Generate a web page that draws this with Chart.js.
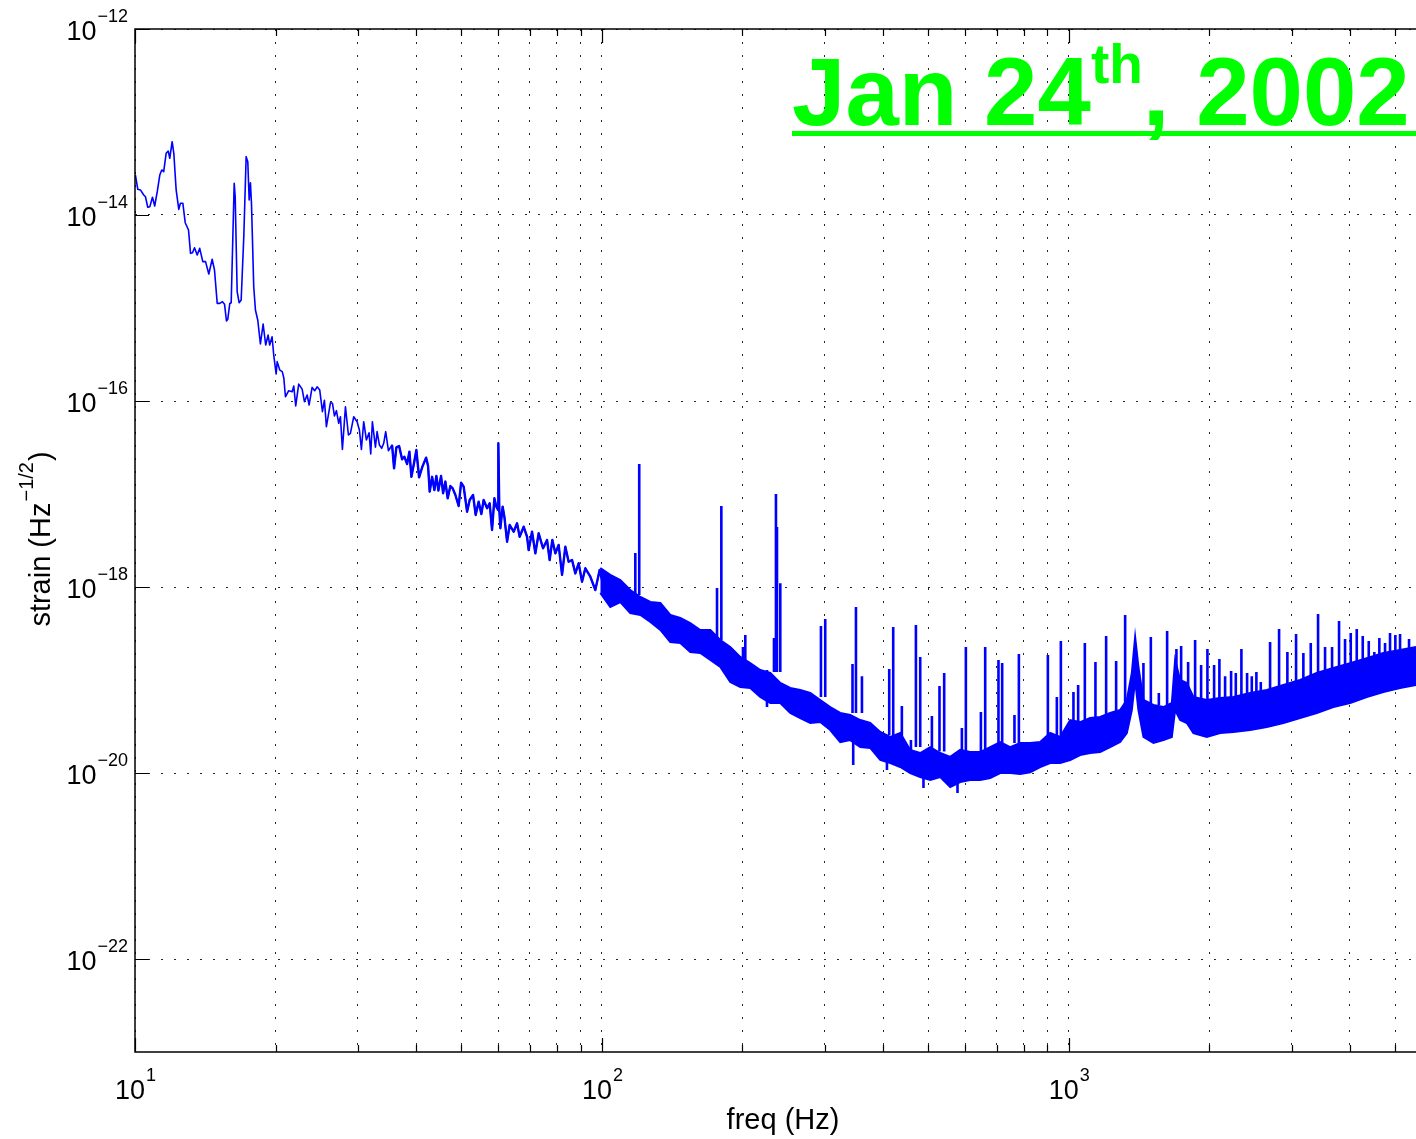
<!DOCTYPE html>
<html>
<head>
<meta charset="utf-8">
<title>Strain sensitivity, Jan 24 2002</title>
<script src="https://cdn.jsdelivr.net/npm/chart.js@4.4.1/dist/chart.umd.min.js"></script>
<style>
  html, body { margin: 0; padding: 0; background: #fff; overflow: hidden; }
  canvas { display: block; }
</style>
</head>
<body>
<canvas id="strainChart" width="1416" height="1139"></canvas>
<script>
// ---------------- spectrum data ----------------

// low frequency part, single trace (Hz, strain/rtHz)
var lowHz = [10.02, 10.14, 10.27, 10.44, 10.53, 10.65, 10.76, 10.90, 11.02, 11.16, 11.30, 11.41, 11.52, 11.66, 11.78, 11.87,
  12.01, 12.11, 12.25, 12.41, 12.51, 12.66, 12.81, 13.02, 13.15, 13.28, 13.41, 13.59, 13.76, 13.97, 14.16, 14.39, 14.63, 14.80,
  15.00, 15.19, 15.39, 15.55, 15.70, 15.80, 15.96, 16.07, 16.31, 16.39, 16.55, 16.71, 16.88, 17.10, 17.30, 17.44, 17.56, 17.67,
  17.76, 17.96, 18.11, 18.32, 18.56, 18.81, 19.05, 19.28, 19.43, 19.66, 19.82, 20.06, 20.16, 20.42, 20.67, 20.83, 21.00, 21.34,
  21.71, 21.88, 22.09, 22.42, 22.80, 23.06, 23.37, 23.60, 23.95, 24.26, 24.55, 24.87, 25.20, 25.45, 25.70, 26.22, 26.48, 26.74,
  27.00, 27.31, 27.54, 27.81, 28.23, 28.65, 28.93, 29.41, 29.90, 30.24, 30.54, 30.89, 31.30, 31.72, 31.98, 32.24, 32.73, 33.00,
  33.38, 33.76, 34.09, 34.43, 34.89, 35.53, 35.88, 36.29, 36.78, 37.33, 37.75, 38.26, 38.70, 39.08, 39.52, 40.05, 40.59, 41.26,
  42.02, 42.43, 42.77, 43.28, 43.77, 44.20, 44.64, 45.24, 45.69, 46.21, 46.74, 47.36, 47.90, 48.55, 49.34, 49.93, 50.57, 51.43,
  52.09, 52.97, 53.65, 54.45, 55.18, 55.81, 56.76, 57.49, 58.17, 58.84, 59.42, 59.92, 60.00, 60.30, 60.60, 61.29, 61.81, 62.64,
  63.45, 64.71, 65.80, 66.65, 67.98, 69.13, 69.67, 70.85, 72.02, 73.20, 74.80, 76.29, 77.28, 78.31, 79.48, 80.78, 82.15, 83.49,
  84.86, 86.30, 87.71, 89.15, 90.66, 92.15, 94.45, 96.80, 98.88, 100.85, 103.36, 104.59, 106.30, 108.59];
var lowStrain = [2.69e-14, 1.89e-14, 1.86e-14, 1.64e-14, 1.57e-14, 1.21e-14, 1.23e-14, 1.55e-14, 1.25e-14, 1.78e-14, 2.69e-14,
  3.05e-14, 2.92e-14, 4.61e-14, 4.88e-14, 4.07e-14, 6.14e-14, 4.61e-14, 1.86e-14, 1.15e-14, 1.34e-14, 1.34e-14, 8.26e-15,
  6.90e-15, 3.87e-15, 3.93e-15, 4.45e-15, 3.71e-15, 4.38e-15, 3.15e-15, 3.15e-15, 2.32e-15, 3.34e-15, 2.56e-15, 1.12e-15,
  1.12e-15, 1.17e-15, 1.10e-15, 7.25e-16, 7.56e-16, 1.12e-15, 1.14e-15, 2.19e-14, 1.57e-14, 1.50e-15, 1.14e-15, 1.22e-15,
  5.84e-15, 4.24e-14, 3.74e-14, 1.45e-14, 2.22e-14, 1.34e-14, 1.69e-15, 9.52e-16, 7.43e-16, 4.10e-16, 6.73e-16, 4.00e-16,
  5.12e-16, 4.00e-16, 4.91e-16, 3.12e-16, 1.95e-16, 2.65e-16, 2.15e-16, 2.07e-16, 1.77e-16, 1.11e-16, 1.29e-16, 1.26e-16,
  1.45e-16, 8.84e-17, 1.52e-16, 1.34e-16, 9.83e-17, 1.16e-16, 9.06e-17, 1.40e-16, 1.29e-16, 1.42e-16, 1.31e-16, 7.67e-17,
  1.02e-16, 5.29e-17, 9.59e-17, 9.45e-17, 6.90e-17, 7.87e-17, 5.76e-17, 6.78e-17, 3.02e-17, 8.68e-17, 4.31e-17, 4.49e-17,
  6.78e-17, 5.99e-17, 4.88e-17, 3.02e-17, 5.99e-17, 3.81e-17, 4.56e-17, 2.69e-17, 5.99e-17, 3.18e-17, 4.68e-17, 3.36e-17,
  3.10e-17, 3.51e-17, 4.68e-17, 2.92e-17, 3.36e-17, 1.89e-17, 3.18e-17, 3.28e-17, 2.36e-17, 2.52e-17, 2.10e-17, 2.85e-17,
  1.53e-17, 2.05e-17, 2.97e-17, 1.51e-17, 1.97e-17, 2.46e-17, 2.00e-17, 1.06e-17, 1.53e-17, 1.10e-17, 1.56e-17, 1.09e-17,
  1.56e-17, 1.02e-17, 1.36e-17, 8.99e-18, 1.22e-17, 1.15e-17, 9.76e-18, 7.43e-18, 1.32e-17, 1.20e-17, 6.45e-18, 8.62e-18,
  9.76e-18, 5.95e-18, 8.26e-18, 6.10e-18, 8.62e-18, 7.02e-18, 7.94e-18, 4.10e-18, 8.99e-18, 7.30e-18, 6.73e-18, 3.51e-17,
  6.73e-18, 4.28e-18, 7.30e-18, 5.70e-18, 3.07e-18, 4.64e-18, 3.93e-18, 4.84e-18, 3.47e-18, 4.45e-18, 3.47e-18, 2.50e-18,
  3.93e-18, 2.30e-18, 3.78e-18, 2.61e-18, 3.20e-18, 1.95e-18, 3.20e-18, 2.30e-18, 2.83e-18, 1.35e-18, 2.71e-18, 1.87e-18,
  1.95e-18, 1.40e-18, 1.80e-18, 1.14e-18, 1.59e-18, 1.29e-18, 9.28e-19, 1.52e-18, 1.01e-18, 1.19e-18, 6.40e-19, 9.28e-19,
  8.20e-19];

// above ~100 Hz the noise floor is a dense band: upper and lower edge
var bandHz = [99.2, 104.2, 109.5, 115.0, 120.9, 127.0, 133.4, 140.1, 147.2, 154.6, 162.4, 170.7, 179.3, 188.3, 197.8, 207.8,
  218.3, 229.4, 241.0, 253.1, 265.9, 279.4, 293.5, 308.3, 323.9, 340.3, 357.5, 375.5, 394.5, 414.5, 435.4, 457.4, 480.5, 504.8,
  530.3, 557.1, 585.2, 614.8, 645.8, 678.5, 712.8, 748.8, 786.6, 826.4, 868.2, 912.0, 958.1, 1006.5, 1057.4, 1110.8, 1166.9,
  1225.9, 1287.8, 1331.1, 1364.3, 1386.7, 1409.4, 1444.6, 1517.6, 1594.3, 1661.7, 1689.0, 1731.3, 1789.3, 1848.5, 1974.7,
  2108.4, 2251.2, 2444.4, 2654.3, 2880.6, 3127.6, 3396.0, 3685.7, 4001.8, 4345.3, 4716.0, 5120.8, 5540.5];
var bandTop = [1.60e-18, 1.35e-18, 1.19e-18, 9.28e-19, 7.81e-19, 6.90e-19, 6.73e-19, 5.00e-19, 4.64e-19, 4.10e-19,
  3.45e-19, 3.45e-19, 2.69e-19, 2.26e-19, 1.77e-19, 1.52e-19, 1.28e-19, 1.19e-19, 9.28e-20, 8.20e-20,
  7.81e-20, 7.25e-20, 6.10e-20, 5.12e-20, 4.42e-20, 4.20e-20, 3.71e-20, 3.45e-20, 2.76e-20, 2.44e-20,
  2.69e-20, 1.77e-20, 1.64e-20, 1.90e-20, 1.64e-20, 1.49e-20, 1.77e-20, 1.68e-20, 1.68e-20, 1.90e-20,
  2.15e-20, 1.90e-20, 2.10e-20, 2.10e-20, 2.15e-20, 2.69e-20, 2.44e-20, 3.71e-20, 3.53e-20, 3.90e-20,
  4.00e-20, 4.42e-20, 4.76e-20, 6.10e-20, 1.19e-19, 2.90e-19, 1.38e-19, 6.10e-20, 5.39e-20, 5.12e-20,
  5.66e-20, 1.64e-19, 1.00e-19, 9.28e-20, 6.57e-20, 6.10e-20, 6.40e-20, 6.57e-20, 7.25e-20, 7.81e-20,
  8.84e-20, 1.00e-19, 1.19e-19, 1.35e-19, 1.52e-19, 1.72e-19, 1.95e-19, 2.10e-19, 2.26e-19];
var bandBottom = [8.62e-19, 6.10e-19, 6.90e-19, 5.25e-19, 5.00e-19, 4.20e-19, 3.45e-19, 2.56e-19, 2.50e-19, 2.00e-19,
  1.95e-19, 1.64e-19, 1.38e-19, 9.52e-20, 8.41e-20, 8.20e-20, 6.57e-20, 5.66e-20, 5.66e-20, 4.42e-20,
  3.90e-20, 3.45e-20, 3.53e-20, 2.90e-20, 2.15e-20, 2.26e-20, 1.90e-20, 1.86e-20, 1.38e-20, 1.28e-20,
  1.16e-20, 1.00e-20, 9.06e-21, 8.41e-21, 9.06e-21, 7.07e-21, 8.00e-21, 8.41e-21, 8.41e-21, 8.84e-21,
  1.00e-20, 1.00e-20, 9.76e-21, 1.02e-20, 1.16e-20, 1.28e-20, 1.28e-20, 1.38e-20, 1.56e-20, 1.64e-20,
  1.68e-20, 1.90e-20, 2.15e-20, 2.69e-20, 4.76e-20, 1.00e-19, 4.76e-20, 2.44e-20, 2.10e-20, 2.26e-20,
  2.44e-20, 4.76e-20, 3.71e-20, 3.45e-20, 2.69e-20, 2.44e-20, 2.69e-20, 2.76e-20, 2.90e-20, 3.12e-20,
  3.45e-20, 3.90e-20, 4.42e-20, 5.12e-20, 5.66e-20, 6.57e-20, 7.43e-20, 8.20e-20, 8.84e-20];

// narrow lines leaving the floor: frequency, tip, and where they leave the band
var lineHz = [117.9, 120.2, 176.4, 180.2, 200.5, 202.8, 225.7, 233.6, 235.9, 237.1, 241.0, 294.5, 300.8, 344.1, 345.3, 350.0,
  360.5, 407.8, 412.4, 420.6, 438.9, 459.0, 470.4, 480.5, 488.3, 509.0, 528.4, 540.8, 577.5, 590.1, 601.8, 648.1, 662.0, 706.8,
  719.8, 764.8, 781.6, 901.8, 942.6, 961.4, 1023.0, 1047.0, 1082.1, 1140.2, 1201.9, 1262.7, 1320.0, 1444.6, 1498.3, 1558.6,
  1623.7, 1699.8, 1739.8, 1800.8, 1864.0, 1919.9, 1980.6, 2047.0, 2101.1, 2161.0, 2225.9, 2278.1, 2341.9, 2408.6, 2465.0,
  2521.6, 2576.9, 2697.7, 2820.1, 2937.9, 3066.6, 3178.9, 3297.0, 3417.9, 3537.9, 3662.1, 3790.6, 3904.4, 4015.7, 4136.2,
  4260.4, 4388.3, 4511.1, 4624.0, 4755.7, 4874.0, 5003.5, 5120.8, 5353.1];
var linePeak = [2.32e-18, 2.10e-17, 9.76e-19, 7.43e-18, 2.26e-19, 3.05e-19, 5.12e-20, 2.83e-19, 1.00e-17, 4.42e-18, 1.10e-18,
  3.81e-19, 4.53e-19, 1.49e-19, 1.22e-20, 6.10e-19, 1.10e-19, 1.08e-20, 1.31e-19, 3.71e-19, 5.25e-20, 1.02e-20, 3.90e-19,
  1.77e-19, 6.90e-21, 4.10e-20, 8.62e-20, 1.19e-19, 6.10e-21, 3.05e-20, 2.26e-19, 4.53e-20, 2.26e-19, 1.64e-19, 1.52e-19,
  4.20e-20, 1.90e-19, 1.86e-19, 6.57e-20, 2.63e-19, 7.43e-20, 8.84e-20, 2.50e-19, 1.56e-19, 2.97e-19, 1.60e-19, 5.00e-19,
  1.52e-19, 2.90e-19, 7.25e-20, 3.36e-19, 2.15e-19, 2.32e-19, 1.56e-19, 2.69e-19, 1.45e-19, 2.15e-19, 1.45e-19, 1.68e-19,
  1.10e-19, 1.25e-19, 1.19e-19, 2.15e-19, 1.19e-19, 1.10e-19, 1.22e-19, 9.52e-20, 2.56e-19, 3.53e-19, 2.00e-19, 3.12e-19,
  1.95e-19, 2.50e-19, 5.12e-19, 2.26e-19, 2.26e-19, 4.31e-19, 2.76e-19, 3.20e-19, 3.53e-19, 2.97e-19, 2.63e-19, 2.00e-19,
  2.83e-19, 2.50e-19, 3.20e-19, 3.05e-19, 3.12e-19, 2.76e-19];
var lineFoot = [8.20e-19, 8.20e-19, 2.69e-19, 2.69e-19, 1.56e-19, 1.56e-19, 1.28e-19, 1.22e-19, 1.22e-19, 1.22e-19, 1.22e-19,
  6.57e-20, 6.57e-20, 4.42e-20, 3.71e-20, 4.42e-20, 4.42e-20, 2.56e-20, 2.56e-20, 2.56e-20, 2.15e-20, 2.26e-20, 1.90e-20,
  1.90e-20, 1.68e-20, 1.77e-20, 1.70e-20, 1.70e-20, 1.56e-20, 1.49e-20, 1.49e-20, 1.68e-20, 1.68e-20, 2.00e-20, 2.00e-20,
  2.10e-20, 2.10e-20, 2.56e-20, 2.38e-20, 2.38e-20, 3.28e-20, 3.28e-20, 3.53e-20, 3.71e-20, 4.00e-20, 4.53e-20, 5.39e-20,
  6.10e-20, 5.66e-20, 5.39e-20, 5.39e-20, 1.00e-19, 8.84e-20, 6.10e-20, 5.80e-20, 5.80e-20, 6.10e-20, 6.10e-20, 6.40e-20,
  6.40e-20, 6.40e-20, 6.40e-20, 6.57e-20, 6.57e-20, 6.57e-20, 7.43e-20, 7.43e-20, 7.81e-20, 8.20e-20, 8.84e-20, 9.28e-20,
  1.00e-19, 1.05e-19, 1.10e-19, 1.22e-19, 1.22e-19, 1.38e-19, 1.38e-19, 1.52e-19, 1.52e-19, 1.64e-19, 1.64e-19, 1.77e-19,
  1.77e-19, 1.86e-19, 1.86e-19, 2.00e-19, 2.00e-19, 2.10e-19];

// axes
var xMin = 10, xMax = 5540;
var yMin = 1e-23, yMax = 1e-12;
var xLabelExp = [1, 2, 3];
var yLabelExp = [-12, -14, -16, -18, -20, -22];

var FONT = '"Liberation Sans", Arial, Helvetica, sans-serif';
var BLUE = '#0000ff';

// grid positions: 1..9 x 10^n along freq, every second decade along strain
var xGrid = [];
for (var d = 10; d < xMax; d *= 10) {
  for (var k = 1; k <= 9; k++) {
    if (k * d <= xMax) xGrid.push(k * d);
  }
}
var yGrid = yLabelExp.map(function(e) { return Math.pow(10, e); });

function pairs(xs, ys) {
  return xs.map(function(v, i) { return {x: v, y: ys[i]}; });
}

// the trace gets busier above ~35 Hz, drawn again there with a heavier pen
var lowBusy = pairs(lowHz, lowStrain).filter(function(p) { return p.x > 35; });

// each line goes foot -> tip, with a gap before the next one
var lineData = [];
lineHz.forEach(function(f, i) {
  lineData.push({x: f, y: lineFoot[i]});
  lineData.push({x: f, y: linePeak[i]});
  lineData.push({x: f, y: null});
});

// 10^n label, base and raised exponent
function drawPower(ctx, exp, x, baseline, align) {
  var expText = String(exp).replace('-', '\u2212');
  ctx.font = '27px ' + FONT;
  var wBase = ctx.measureText('10').width;
  ctx.font = '18px ' + FONT;
  var wExp = ctx.measureText(expText).width;
  var x0 = align === 'right' ? x - wBase - wExp : x - (wBase + wExp) / 2;
  ctx.font = '27px ' + FONT;
  ctx.fillText('10', x0, baseline);
  ctx.font = '18px ' + FONT;
  ctx.fillText(expText, x0 + wBase + 1, baseline - 18);
}

// box, inward ticks, tick labels, axis labels and the date banner
var frame = {
  id: 'frame',
  afterDraw: function(chart) {
    var ctx = chart.ctx, a = chart.chartArea;
    var xs = chart.scales.x, ys = chart.scales.y;
    ctx.save();

    ctx.strokeStyle = '#000';
    ctx.lineWidth = 1.5;
    ctx.beginPath();
    ctx.moveTo(a.right + 2, a.top);
    ctx.lineTo(a.left, a.top);
    ctx.lineTo(a.left, a.bottom);
    ctx.lineTo(a.right + 2, a.bottom);
    ctx.stroke();

    ctx.lineWidth = 1.2;
    ctx.beginPath();
    xGrid.forEach(function(v) {
      var px = Math.round(xs.getPixelForValue(v)) + 0.5;
      var major = Math.abs(Math.log10(v) - Math.round(Math.log10(v))) < 1e-9;
      var len = major ? 14 : 7;
      ctx.moveTo(px, a.bottom); ctx.lineTo(px, a.bottom - len);
      ctx.moveTo(px, a.top); ctx.lineTo(px, a.top + len);
    });
    yGrid.forEach(function(v) {
      var py = Math.round(ys.getPixelForValue(v)) + 0.5;
      ctx.moveTo(a.left, py); ctx.lineTo(a.left + 14, py);
    });
    ctx.stroke();

    ctx.fillStyle = '#000';
    ctx.textBaseline = 'alphabetic';
    ctx.textAlign = 'left';
    xLabelExp.forEach(function(e) {
      drawPower(ctx, e, xs.getPixelForValue(Math.pow(10, e)), a.bottom + 47, 'center');
    });
    yLabelExp.forEach(function(e) {
      drawPower(ctx, e, a.left - 8, ys.getPixelForValue(Math.pow(10, e)) + 11, 'right');
    });

    // freq label
    ctx.font = '29px ' + FONT;
    ctx.textAlign = 'center';
    ctx.fillText('freq (Hz)', 783, 1129);
    ctx.textAlign = 'left';

    // strain label, rotated, with the -1/2 exponent
    ctx.save();
    ctx.translate(50, 540);
    ctx.rotate(-Math.PI / 2);
    var p1 = 'strain (Hz', p2 = '\u22121/2', p3 = ')';
    ctx.font = '29px ' + FONT;
    var w1 = ctx.measureText(p1).width, w3 = ctx.measureText(p3).width;
    ctx.font = '20px ' + FONT;
    var w2 = ctx.measureText(p2).width;
    var sx = -(w1 + w2 + w3) / 2;
    ctx.font = '29px ' + FONT;
    ctx.fillText(p1, sx, 0);
    ctx.font = '20px ' + FONT;
    ctx.fillText(p2, sx + w1 + 1, -17);
    ctx.font = '29px ' + FONT;
    ctx.fillText(p3, sx + w1 + w2 + 2, 0);
    ctx.restore();

    // date banner
    ctx.fillStyle = '#00ff00';
    var tx = 792;
    ctx.font = 'bold 96px ' + FONT;
    ctx.fillText('Jan 24', tx, 125);
    tx += ctx.measureText('Jan 24').width;
    ctx.font = 'bold 55px ' + FONT;
    ctx.fillText('th', tx, 83);
    tx += ctx.measureText('th').width;
    ctx.font = 'bold 96px ' + FONT;
    ctx.fillText(', 2002', tx, 125);
    ctx.fillRect(792, 131, chart.width - 792, 5);

    ctx.restore();
  }
};

var gridStyle = {
  color: 'rgba(0,0,0,0.85)',
  lineWidth: 1,
  drawTicks: false
};

var chart = new Chart(document.getElementById('strainChart').getContext('2d'), {
  type: 'line',
  data: {
    datasets: [
      {
        label: 'band top',
        data: pairs(bandHz, bandTop),
        borderColor: BLUE,
        backgroundColor: BLUE,
        borderWidth: 2,
        fill: '+1',
        pointRadius: 0
      },
      {
        label: 'band bottom',
        data: pairs(bandHz, bandBottom),
        borderColor: BLUE,
        borderWidth: 2,
        fill: false,
        pointRadius: 0
      },
      {
        label: 'low',
        data: pairs(lowHz, lowStrain),
        borderColor: BLUE,
        borderWidth: 1.6,
        borderJoinStyle: 'round',
        fill: false,
        pointRadius: 0
      },
      {
        label: 'low busy',
        data: lowBusy,
        borderColor: BLUE,
        borderWidth: 2.4,
        borderJoinStyle: 'round',
        fill: false,
        pointRadius: 0
      },
      {
        label: 'lines',
        data: lineData,
        borderColor: BLUE,
        borderWidth: 2.6,
        fill: false,
        spanGaps: false,
        pointRadius: 0
      }
    ]
  },
  options: {
    responsive: false,
    animation: false,
    devicePixelRatio: 1,
    layout: { padding: { top: 29, left: 0, right: 0, bottom: 0 } },
    plugins: {
      legend: { display: false },
      tooltip: { enabled: false }
    },
    elements: { line: { tension: 0 } },
    scales: {
      x: {
        type: 'logarithmic',
        min: xMin,
        max: xMax,
        ticks: { display: false },
        grid: gridStyle,
        border: { display: false, dash: [2, 11] },
        afterBuildTicks: function(scale) {
          scale.ticks = xGrid.map(function(v) { return {value: v}; });
        },
        afterFit: function(scale) { scale.height = 87; }
      },
      y: {
        type: 'logarithmic',
        min: yMin,
        max: yMax,
        ticks: { display: false },
        grid: gridStyle,
        border: { display: false, dash: [2, 11] },
        afterBuildTicks: function(scale) {
          scale.ticks = yGrid.map(function(v) { return {value: v}; });
        },
        afterFit: function(scale) { scale.width = 135; }
      }
    }
  },
  plugins: [frame]
});
</script>
</body>
</html>
